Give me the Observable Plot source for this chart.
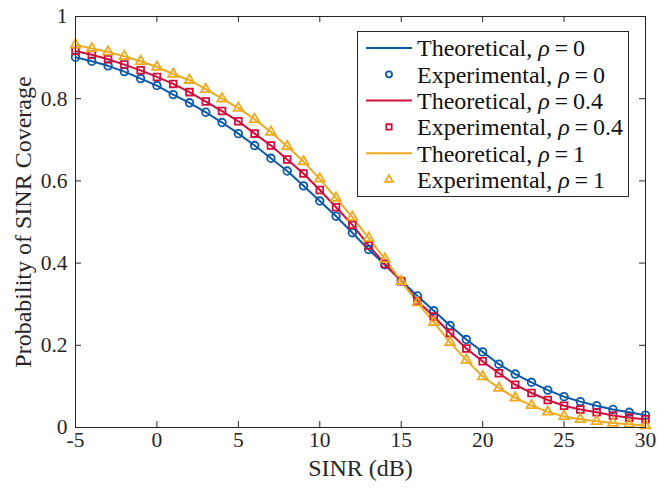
<!DOCTYPE html>
<html>
<head>
<meta charset="utf-8">
<script src="https://cdn.jsdelivr.net/npm/d3@7"></script>
<script src="https://cdn.jsdelivr.net/npm/@observablehq/plot@0.6"></script>
<style>
  html, body { margin: 0; padding: 0; background: #fff; }
  #wrap { position: relative; width: 657px; height: 489px; }
  #legend { position: absolute; left: 357px; top: 31px; }
</style>
</head>
<body>
<div id="wrap"></div>
<script>
const sinr = [-5,-4,-3,-2,-1,0,1,2,3,4,5,6,7,8,9,10,11,12,13,14,15,16,17,18,19,20,21,22,23,24,25,26,27,28,29,30];
const rho0 = [0.901,0.891,0.880,0.866,0.849,0.832,0.810,0.790,0.767,0.742,0.715,0.686,0.655,0.624,0.588,0.551,0.514,0.474,0.433,0.396,0.357,0.320,0.284,0.248,0.214,0.184,0.154,0.130,0.110,0.091,0.075,0.063,0.053,0.044,0.037,0.030];
const rho04 = [0.916,0.907,0.896,0.883,0.869,0.853,0.836,0.816,0.793,0.770,0.745,0.715,0.686,0.652,0.618,0.578,0.536,0.493,0.443,0.398,0.356,0.308,0.270,0.230,0.192,0.161,0.132,0.104,0.084,0.067,0.053,0.044,0.037,0.029,0.024,0.020];
const rho1 = [0.931,0.922,0.914,0.903,0.891,0.877,0.860,0.845,0.823,0.800,0.777,0.750,0.719,0.684,0.647,0.605,0.558,0.512,0.461,0.410,0.356,0.304,0.256,0.207,0.164,0.124,0.096,0.072,0.054,0.038,0.027,0.020,0.015,0.011,0.008,0.005];
const xTicks = [-5,0,5,10,15,20,25,30];
const yTicks = [0,0.2,0.4,0.6,0.8,1];
const yTickLabels = ["0","0.2","0.4","0.6","0.8","1"];
const rhoLabels = ["0","0.4","1"];
const colors = ["#0a5aa8","#cf0f3c","#eeaa1e"];
const symbols = ["circle","square","triangle"];
const xLabel = "SINR (dB)";
const yLabel = "Probability of SINR Coverage";

const seriesVals = [rho0, rho04, rho1];
const series = seriesVals.map((vals, i) => vals.map((v, j) => ({x: sinr[j], y: v, s: i})));

const W = 657, H = 489, mL = 75, mR = 12, mT = 16, mB = 62;
const pw = W - mL - mR, ph = H - mT - mB;
const axisColor = "#262626";
const tickLen = 6;

const marks = [];
series.forEach((d, i) => {
  marks.push(Plot.line(d, {x: "x", y: "y", stroke: colors[i], strokeWidth: 2}));
});
series.forEach((d, i) => {
  marks.push(Plot.dot(d, {x: "x", y: "y", stroke: colors[i], symbol: symbols[i], r: [3.8, 3.8, 3.6][i], strokeWidth: 1.8, fill: "none"}));
});
marks.push(
  Plot.frame({stroke: axisColor, strokeWidth: 1}),
  Plot.tickX(xTicks, {x: d => d, stroke: axisColor, insetTop: ph - tickLen}),
  Plot.tickX(xTicks, {x: d => d, stroke: axisColor, insetBottom: ph - tickLen}),
  Plot.tickY(yTicks, {y: d => d, stroke: axisColor, insetRight: pw - tickLen}),
  Plot.tickY(yTicks, {y: d => d, stroke: axisColor, insetLeft: pw - tickLen}),
  Plot.axisX(xTicks, {tickSize: 0, tickPadding: 4, tickFormat: d => String(d), fill: axisColor, label: null, fontSize: 21.5}),
  Plot.axisY(yTicks, {tickSize: 0, tickPadding: 8, tickFormat: (d, i) => yTickLabels[i], fill: axisColor, label: null, fontSize: 21.5}),
  Plot.text([xLabel], {frameAnchor: "bottom", dy: 41, lineAnchor: "middle", textAnchor: "middle", fontSize: 24, fill: axisColor}),
  Plot.text([yLabel], {frameAnchor: "left", rotate: -90, dx: -52, lineAnchor: "middle", textAnchor: "middle", fontSize: 24, fill: axisColor})
);

const chart = Plot.plot({
  width: W, height: H,
  marginLeft: mL, marginRight: mR, marginTop: mT, marginBottom: mB,
  style: {fontFamily: "'Liberation Serif', 'Times New Roman', serif", fontSize: "21.5px", background: "#fff", overflow: "visible"},
  x: {domain: [-5, 30]},
  y: {domain: [0, 1]},
  marks
});
document.getElementById("wrap").appendChild(chart);

// Legend
const LW = 272, LH = 166, rowH = 26.3, row0 = 17;
const leg = d3.select("#wrap").append("svg")
  .attr("id", "legend").attr("width", LW).attr("height", LH)
  .style("font-family", "'Liberation Serif', 'Times New Roman', serif");
leg.append("rect").attr("x", 0.5).attr("y", 0.5).attr("width", LW - 1).attr("height", LH - 1)
  .attr("fill", "#fff").attr("stroke", axisColor).attr("stroke-width", 1);
const entries = [];
rhoLabels.forEach((r, i) => {
  entries.push({kind: "line", name: "Theoretical, ", rho: r, i});
  entries.push({kind: "marker", name: "Experimental, ", rho: r, i});
});
const symMap = {circle: d3.symbolCircle, square: d3.symbolSquare, triangle: d3.symbolTriangle};
entries.forEach((e, k) => {
  const cy = row0 + k * rowH;
  if (e.kind === "line") {
    leg.append("line").attr("x1", 9).attr("x2", 55).attr("y1", cy).attr("y2", cy)
      .attr("stroke", colors[e.i]).attr("stroke-width", 2);
  } else {
    const rr = [3.0, 3.0, 2.9][e.i];
    leg.append("path").attr("transform", `translate(32,${cy})`)
      .attr("d", d3.symbol(symMap[symbols[e.i]], Math.PI * rr * rr)())
      .attr("fill", "none").attr("stroke", colors[e.i]).attr("stroke-width", 1.8);
  }
  const t = leg.append("text").attr("x", 60).attr("y", cy).attr("dy", "0.35em")
    .attr("font-size", 24).attr("fill", "#111");
  t.append("tspan").text(e.name);
  t.append("tspan").attr("font-style", "italic").text("ρ");
  t.append("tspan").text("\u2009=\u2009" + e.rho);
});
</script>
</body>
</html>
